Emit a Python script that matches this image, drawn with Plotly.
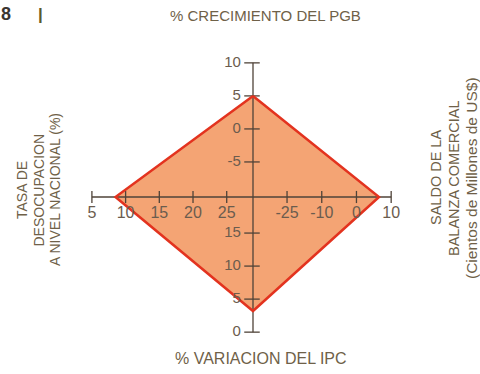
import numpy as np
import plotly.graph_objects as go

# valores de cada eje (lectura del gráfico)
pgb_ticks = [-5, 0, 5, 10]
ipc_ticks = [0, 5, 10, 15]
desocupacion_ticks = [5, 10, 15, 20, 25]
balanza_ticks = [-25, -10, 0, 10]
balanza_labels = ["-25", "-10", "0", "10"]

crecimiento_pgb = 5.0
variacion_ipc = 3.2
tasa_desocupacion = 8.5
saldo_balanza = 6.5

W, H = 480, 374
PX = 33.7  # pixeles por unidad
CX, CY = 253, 197  # centro en pixeles

FONT = "Liberation Sans, Arial, sans-serif"
AXIS_COLOR = "#4f4338"
TICK_TEXT = "#6b5c4e"
TITLE_TEXT = "#6f6148"
FILL = "#f4a474"
EDGE = "#e3331f"


def arm(ticks, start, step):
	# posiciones de las marcas a lo largo de un brazo
	return start + step * np.arange(len(ticks))


pos_pgb = arm(pgb_ticks, 1.04, 0.98)
pos_ipc = arm(ipc_ticks, -4.01, 0.98)
pos_des = arm(desocupacion_ticks, -4.78, 1.0)
pos_bal = arm(balanza_ticks, 1.01, 1.03)

top = np.interp(crecimiento_pgb, pgb_ticks, pos_pgb)
bottom = np.interp(variacion_ipc, ipc_ticks, pos_ipc)
left = np.interp(tasa_desocupacion, desocupacion_ticks, pos_des)
right = np.interp(saldo_balanza, balanza_ticks, pos_bal)

fig = go.Figure()

# rombo
fig.add_trace(
	go.Scatter(
		x=[0, right, 0, left, 0],
		y=[top, 0, bottom, 0, top],
		mode="lines",
		fill="toself",
		fillcolor=FILL,
		line=dict(color=FILL, width=0),
		hoverinfo="skip",
	)
)

# ejes
h_ticks = np.concatenate([pos_des, pos_bal])
v_ticks = np.concatenate([pos_ipc, pos_pgb])
fig.add_trace(
	go.Scatter(
		x=[h_ticks.min(), h_ticks.max(), None, 0, 0],
		y=[0, 0, None, v_ticks.min(), v_ticks.max()],
		mode="lines",
		line=dict(color=AXIS_COLOR, width=1.3),
		hoverinfo="skip",
	)
)
tx, ty = [], []
for p in h_ticks:
	tx += [p, p, None]
	ty += [-0.18, 0.18, None]
for p in v_ticks:
	tx += [-0.26, 0.2, None]
	ty += [p, p, None]
fig.add_trace(go.Scatter(x=tx, y=ty, mode="lines", line=dict(color=AXIS_COLOR, width=1.3), hoverinfo="skip"))

# contorno
fig.add_trace(
	go.Scatter(
		x=[0, right, 0, left, 0],
		y=[top, 0, bottom, 0, top],
		mode="lines",
		line=dict(color=EDGE, width=2.5),
		hoverinfo="skip",
	)
)

# etiquetas de las marcas
fig.add_trace(
	go.Scatter(
		x=list(pos_des) + list(pos_bal),
		y=[-0.5] * (len(pos_des) + len(pos_bal)),
		mode="text",
		text=[str(v) for v in desocupacion_ticks] + balanza_labels,
		textposition="middle center",
		textfont=dict(family=FONT, size=16, color=TICK_TEXT),
		hoverinfo="skip",
	)
)
fig.add_trace(
	go.Scatter(
		x=[-0.36] * (len(pos_pgb) + len(pos_ipc)),
		y=list(pos_pgb) + list(pos_ipc),
		mode="text",
		text=[str(v) for v in pgb_ticks] + [str(v) for v in ipc_ticks],
		textposition="middle left",
		textfont=dict(family=FONT, size=15, color=TICK_TEXT),
		hoverinfo="skip",
	)
)


def ann(text, px, py, size=14, angle=0, color=TITLE_TEXT, xanchor="center"):
	fig.add_annotation(
		text=text,
		x=px / W,
		y=1 - py / H,
		xref="paper",
		yref="paper",
		showarrow=False,
		textangle=angle,
		xanchor=xanchor,
		yanchor="middle",
		borderpad=0,
		font=dict(family=FONT, size=size, color=color),
	)


ann("% CRECIMIENTO DEL PGB", 265, 15, size=15)
ann("% VARIACION DEL IPC", 261, 358, size=16)
ann("TASA DE", 22, 190, angle=-90)
ann("DESOCUPACION", 38.5, 190, angle=-90)
ann("A NIVEL NACIONAL (%)", 55, 190, angle=-90)
ann("SALDO DE LA", 436, 178, angle=-90, size=14.5)
ann("BALANZA COMERCIAL", 454, 178, angle=-90, size=14.5)
ann("(Cientos de Millones de US$)", 471, 178, angle=-90, size=15.5)
ann("<b>8</b>", 0, 14, size=18, color="#3a3530", xanchor="left")
ann("<b>|</b>", 40, 14, size=17, color="#5c5a2a")

fig.update_layout(
	width=W,
	height=H,
	margin=dict(l=0, r=0, t=0, b=0),
	paper_bgcolor="white",
	plot_bgcolor="white",
	showlegend=False,
	xaxis=dict(range=[-CX / PX, (W - CX) / PX], visible=False, fixedrange=True),
	yaxis=dict(range=[-(H - CY) / PX, CY / PX], visible=False, fixedrange=True),
)

fig.write_html(
	"out.html",
	config={"displayModeBar": False},
	post_script="document.body.style.margin='0';",
)
